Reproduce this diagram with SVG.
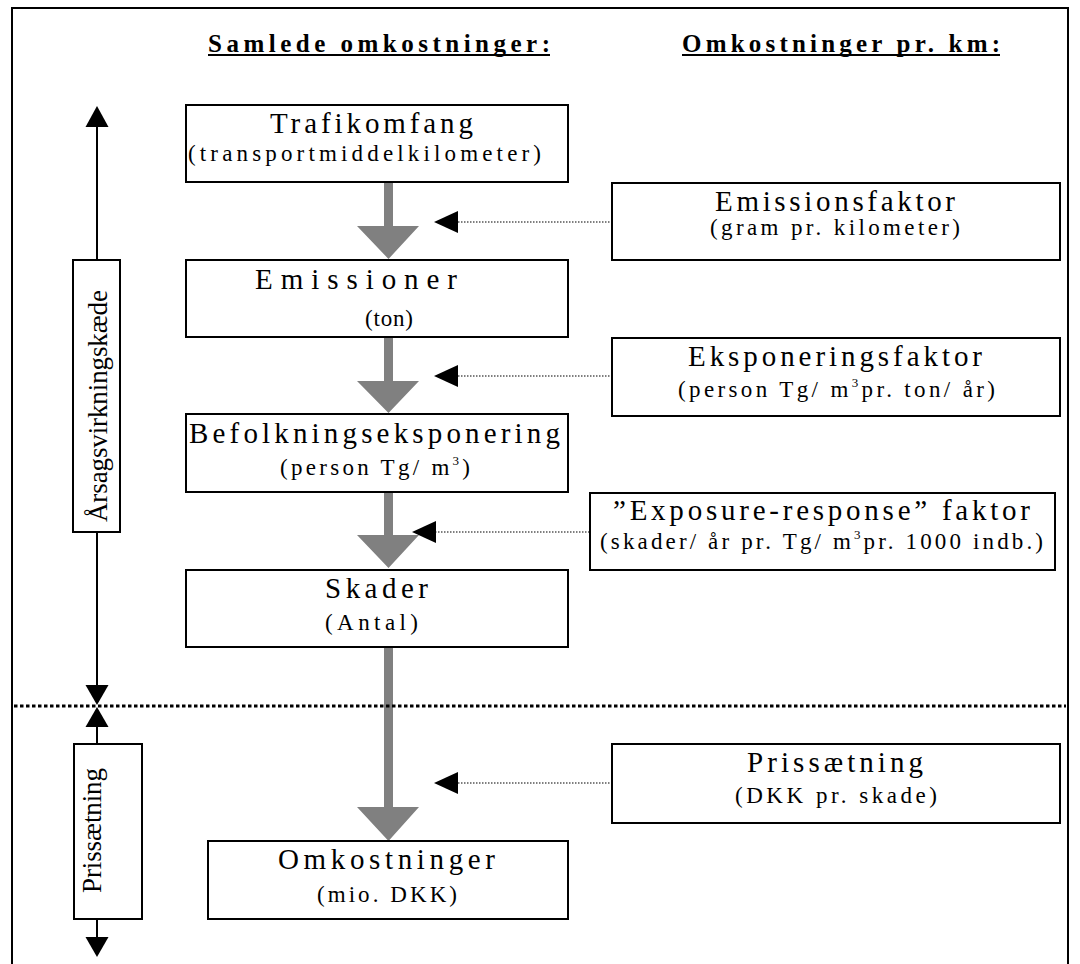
<svg xmlns="http://www.w3.org/2000/svg" width="1080" height="964" viewBox="0 0 1080 964">
<style>
  text { font-family: "Liberation Serif", "Times New Roman", serif; fill: #000; }
  .hdr { font-size: 25px; font-weight: bold; }
  .t { font-size: 29px; }
  .s { font-size: 23px; }
  .v { font-size: 27px; }
  .box { fill: #fff; stroke: #000; stroke-width: 2; }
  .axis { stroke: #000; stroke-width: 2; fill: none; }
  .dot { stroke: #000; stroke-width: 1.2; stroke-dasharray: 1.5 1.5; fill: none; }
  .sep { stroke: #000; stroke-width: 3; stroke-dasharray: 3.5 2.5; fill: none; }
  .gray { fill: #808080; }
  .head { fill: #000; }
</style>
<rect x="0" y="0" width="1080" height="964" fill="#fff"/>
<path d="M12,964 V8 H1068 V964" fill="none" stroke="#000" stroke-width="2"/>

<g id="headers">
  <text class="hdr" x="208" y="52" textLength="342" lengthAdjust="spacing">Samlede omkostninger:</text>
  <line x1="208" y1="55" x2="550" y2="55" stroke="#000" stroke-width="2"/>
  <text class="hdr" x="682" y="52" textLength="318" lengthAdjust="spacing">Omkostninger pr. km:</text>
  <line x1="682" y1="55" x2="1000" y2="55" stroke="#000" stroke-width="2"/>
</g>

<g id="connectors">
  <polygon class="gray" points="384,182 393,182 393,226 419,226 388.5,259 357,226 384,226"/>
  <polygon class="gray" points="384,337 393,337 393,381 419,381 388.5,413 357,381 384,381"/>
  <polygon class="gray" points="384,492 393,492 393,535 419,535 388.5,568 357,535 384,535"/>
  <polygon class="gray" points="384,647 393,647 393,807 419,807 388.5,841 357,807 384,807"/>
  <line class="dot" x1="458" y1="222" x2="612" y2="222"/>
  <polygon class="head" points="434,222 458,211 458,233"/>
  <line class="dot" x1="458" y1="376" x2="612" y2="376"/>
  <polygon class="head" points="434,376 458,365 458,387"/>
  <line class="dot" x1="435" y1="532" x2="590" y2="532"/>
  <polygon class="head" points="412,532 436,521 436,543"/>
  <line class="dot" x1="458" y1="783" x2="612" y2="783"/>
  <polygon class="head" points="434,783 458,772 458,794"/>
  <line class="sep" x1="14" y1="706" x2="1066" y2="706"/>
  <line class="axis" x1="97" y1="124" x2="97" y2="260"/>
  <polygon class="head" points="97,106 108.5,127 85.5,127"/>
  <line class="axis" x1="97" y1="532" x2="97" y2="687"/>
  <polygon class="head" points="97,705 85.5,685 108.5,685"/>
  <line class="axis" x1="97" y1="725" x2="97" y2="744"/>
  <polygon class="head" points="97,707 108.5,727 85.5,727"/>
  <line class="axis" x1="97" y1="919" x2="97" y2="939"/>
  <polygon class="head" points="97,957 85.5,937 108.5,937"/>
</g>

<g id="trafikomfang">
  <rect class="box" x="186" y="105" width="382" height="77"/>
  <text class="t" x="270" y="133" textLength="203" lengthAdjust="spacing">Trafikomfang</text>
  <text class="s" x="188" y="161" textLength="353" lengthAdjust="spacing">(transportmiddelkilometer)</text>
</g>

<g id="emissionsfaktor">
  <rect class="box" x="612" y="183" width="448" height="77"/>
  <text class="t" x="715" y="211" textLength="240" lengthAdjust="spacing">Emissionsfaktor</text>
  <text class="s" x="710" y="235" textLength="250" lengthAdjust="spacing">(gram pr. kilometer)</text>
</g>

<g id="emissioner">
  <rect class="box" x="186" y="260" width="382" height="77"/>
  <text class="t" x="255" y="289" textLength="202" lengthAdjust="spacing">Emissioner</text>
  <text class="s" x="365" y="326" textLength="48" lengthAdjust="spacing">(ton)</text>
</g>

<g id="eksponeringsfaktor">
  <rect class="box" x="612" y="338" width="448" height="78"/>
  <text class="t" x="688" y="366" textLength="294" lengthAdjust="spacing">Eksponeringsfaktor</text>
  <text class="s" x="678" y="397" textLength="317" lengthAdjust="spacing">(person Tg/ m<tspan font-size="13" dy="-10">3</tspan><tspan dy="10">pr. ton/ år)</tspan></text>
</g>

<g id="befolkningseksponering">
  <rect class="box" x="186" y="414" width="382" height="78"/>
  <text class="t" x="189" y="443" textLength="371" lengthAdjust="spacing">Befolkningseksponering</text>
  <text class="s" x="280" y="475" textLength="190" lengthAdjust="spacing">(person Tg/ m<tspan font-size="13" dy="-10">3</tspan><tspan dy="10">)</tspan></text>
</g>

<g id="exposure-response">
  <rect class="box" x="590" y="493" width="465" height="77"/>
  <text class="t" x="613" y="520" textLength="417" lengthAdjust="spacing">”Exposure-response” faktor</text>
  <text class="s" x="600" y="549" textLength="443" lengthAdjust="spacing">(skader/ år pr. Tg/ m<tspan font-size="13" dy="-10">3</tspan><tspan dy="10">pr. 1000 indb.)</tspan></text>
</g>

<g id="skader">
  <rect class="box" x="186" y="570" width="382" height="77"/>
  <text class="t" x="325" y="598" textLength="103" lengthAdjust="spacing">Skader</text>
  <text class="s" x="325" y="630" textLength="93" lengthAdjust="spacing">(Antal)</text>
</g>

<g id="prissaetning-faktor">
  <rect class="box" x="612" y="744" width="448" height="79"/>
  <text class="t" x="747" y="772" textLength="176" lengthAdjust="spacing">Prissætning</text>
  <text class="s" x="735" y="803" textLength="202" lengthAdjust="spacing">(DKK pr. skade)</text>
</g>

<g id="omkostninger">
  <rect class="box" x="208" y="841" width="360" height="78"/>
  <text class="t" x="278" y="869" textLength="217" lengthAdjust="spacing">Omkostninger</text>
  <text class="s" x="317" y="902" textLength="140" lengthAdjust="spacing">(mio. DKK)</text>
</g>

<g id="aarsagsvirkningskaede">
  <rect class="box" x="73" y="260" width="47" height="272"/>
  <text class="v" transform="translate(107,522) rotate(-90)" x="0" y="0" textLength="232" lengthAdjust="spacing">Årsagsvirkningskæde</text>
</g>

<g id="prissaetning-fase">
  <rect class="box" x="74" y="744" width="68" height="175"/>
  <text class="v" transform="translate(101,893) rotate(-90)" x="0" y="0" textLength="125" lengthAdjust="spacing">Prissætning</text>
</g>
</svg>
